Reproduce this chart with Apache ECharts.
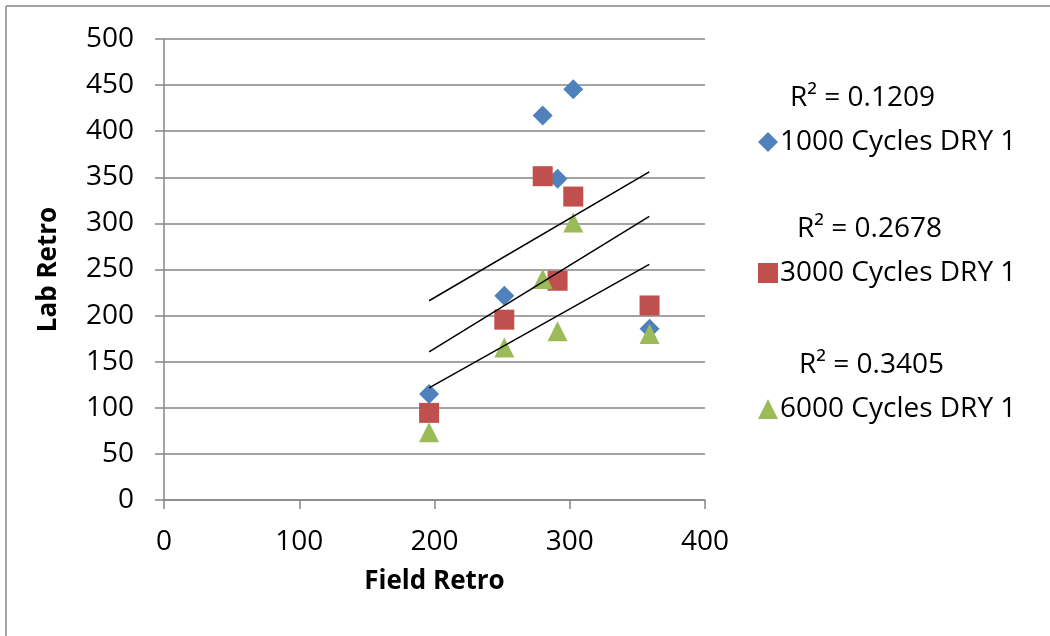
<!DOCTYPE html>
<html>
<head>
<meta charset="utf-8">
<script src="https://cdn.jsdelivr.net/npm/echarts@6/dist/echarts.min.js"></script>
<style>html,body{margin:0;padding:0;background:#fff;}#c{width:1050px;height:636px;}</style>
</head>
<body>
<div id="c"></div>
<script>
const fieldRetro = [196, 251.6, 280, 291, 302.6, 359];
const lab1000 = [115, 221.6, 416.9, 348.3, 445.5, 185.8];
const lab3000 = [94.5, 195.6, 351.2, 237.8, 329.1, 211];
const lab6000 = [73.5, 165.5, 239.6, 182.9, 301, 180];
const seriesNames = ['1000 Cycles DRY 1', '3000 Cycles DRY 1', '6000 Cycles DRY 1'];
const r2Labels = ['R² = 0.1209', 'R² = 0.2678', 'R² = 0.3405'];
const trendX = [196, 358.8];
const trend1000 = [216.1, 355.9];
const trend3000 = [160.6, 307.5];
const trend6000 = [121.6, 255.5];
const xTicks = [0, 100, 200, 300, 400];
const yTicks = [0, 50, 100, 150, 200, 250, 300, 350, 400, 450, 500];

const colors = ['#4F81BD', '#C0504D', '#9BBB59'];
const symbols = ['diamond', 'rect', 'triangle'];
const FONT = 'Open Sans';
const pts = ys => fieldRetro.map((x, i) => [x, ys[i]]);
const tl = ys => trendX.map((x, i) => [x, ys[i]]);

const labs = [lab1000, lab3000, lab6000];
const trends = [trend1000, trend3000, trend6000];
const legendTops = [123, 254, 390];
const r2Tops = [84, 215, 351];
const r2Lefts = [790, 797, 799];

const series = [];
labs.forEach((ys, i) => {
  series.push({
    name: seriesNames[i], type: 'scatter', data: pts(ys),
    symbol: symbols[i], symbolSize: 20,
    itemStyle: { color: colors[i], opacity: 1 }, z: 2
  });
});
trends.forEach((ys, i) => {
  series.push({
    name: 'trend' + i, type: 'line', data: tl(ys), symbol: 'none',
    lineStyle: { color: '#000', width: 1.5 }, z: 5, silent: true
  });
});

const chart = echarts.init(document.getElementById('c'), null, { renderer: 'canvas' });
chart.setOption({
  animation: false,
  backgroundColor: '#fff',
  grid: { left: 164, right: 345, top: 39, bottom: 136, containLabel: false },
  xAxis: {
    type: 'value', min: 0, max: 400, interval: 100,
    name: 'Field Retro', nameLocation: 'middle', nameGap: 69,
    nameTextStyle: { fontFamily: FONT, fontWeight: 'bold', fontSize: 26, color: '#000' },
    axisLine: { show: true, onZero: false, lineStyle: { color: '#868686', width: 1.5 } },
    axisTick: { show: true, length: 9, lineStyle: { color: '#868686', width: 1.5 } },
    axisLabel: { fontFamily: FONT, fontSize: 28, color: '#000', margin: 28 },
    splitLine: { show: false }
  },
  yAxis: {
    type: 'value', min: 0, max: 500, interval: 50,
    name: 'Lab Retro', nameLocation: 'middle', nameGap: 102, nameRotate: 90,
    nameTextStyle: { fontFamily: FONT, fontWeight: 'bold', fontSize: 26, color: '#000' },
    axisLine: { show: true, onZero: false, lineStyle: { color: '#868686', width: 1.5 } },
    axisTick: { show: true, length: 9, lineStyle: { color: '#868686', width: 1.5 } },
    axisLabel: { fontFamily: FONT, fontSize: 28, color: '#000', margin: 30 },
    splitLine: { show: true, lineStyle: { color: '#868686', width: 1.5 } }
  },
  legend: seriesNames.map((n, i) => ({
    data: [{ name: n, icon: symbols[i] }],
    left: 753, top: legendTops[i], itemWidth: 20, itemHeight: 20, itemGap: 0,
    textStyle: { fontFamily: FONT, fontSize: 28, color: '#000', padding: [0, 0, 0, -3] },
    selectedMode: false
  })),
  graphic: [
    { type: 'line', shape: { x1: 6, y1: 6, x2: 1050, y2: 6 }, style: { stroke: '#868686', lineWidth: 1.5 }, silent: true },
    { type: 'line', shape: { x1: 6, y1: 6, x2: 6, y2: 636 }, style: { stroke: '#868686', lineWidth: 1.5 }, silent: true }
  ].concat(r2Labels.map((t, i) => ({
    type: 'text', left: r2Lefts[i], top: r2Tops[i],
    style: { text: t, font: '28px "Open Sans"', fill: '#000' }, silent: true
  }))),
  series: series
});
</script>
</body>
</html>
